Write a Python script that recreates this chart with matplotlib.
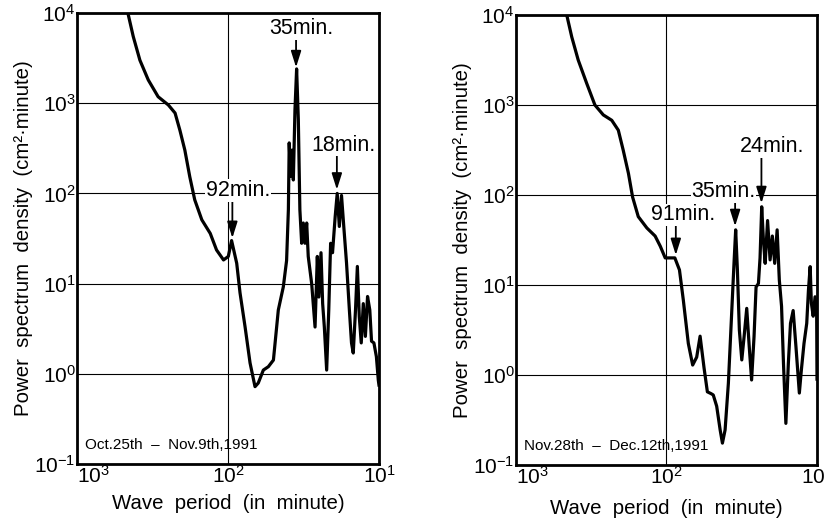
import matplotlib.pyplot as plt
import numpy as np

plt.rcParams['font.family'] = ['Liberation Sans', 'DejaVu Sans']
plt.rcParams['mathtext.fontset'] = 'custom'
plt.rcParams['mathtext.rm'] = 'Liberation Sans'

# Oct.25th - Nov.9th,1991
period_a = [500, 460, 424, 383, 337, 290, 248, 224, 208, 193, 179, 166, 149, 131, 119,
            107, 99.5, 94.6, 87.5, 83.2, 77, 71.4, 66.2, 63, 58.3, 54, 50, 46.4, 43,
            40.9, 39.8, 39.3, 38.5, 37.7, 36.9, 36, 35.1, 34.2, 33.4, 32.5, 31.7, 30.9,
            30.1, 29.4, 27.9, 26.5, 25.6, 25, 24.2, 23.6, 23, 22.2, 21.5, 20.9, 20.3,
            19.5, 18.9, 18.3, 17.7, 17.1, 16.4, 15.7, 15.2, 14.8, 14.3, 13.9, 13.5, 13.1,
            12.7, 12.3, 11.9, 11.5, 11.2, 10.8, 10.4, 10.1, 10.0]
psd_a = [16000, 10000, 5500, 3000, 1810, 1180, 955, 778, 500, 302, 153, 85, 51, 36, 23.6,
         18.3, 20, 30, 16.8, 7.9, 3.3, 1.32, 0.72, 0.79, 1.1, 1.2, 1.42, 5.1, 9.2,
         18, 66, 363, 155, 302, 141, 841, 2400, 660, 66, 28, 47, 28,
         47, 20, 10, 3.3, 20, 7.1, 22, 6.0, 3.3, 1.1, 5.1, 28, 22,
         55, 100, 43, 95, 43, 17, 5.1, 2.2, 1.7, 5.1, 15.5, 4.3, 2.2,
         6.0, 2.6, 7.2, 5.1, 2.3, 2.2, 1.55, 0.85, 0.75]

# Nov.28th - Dec.12th,1991
period_b = [500, 460, 426, 386, 339, 299, 263, 231, 209, 194, 179, 168, 154, 135, 119,
            110, 102, 88, 82, 77.3, 71.6, 67, 63, 59.8, 56.3, 53.5, 50.5, 48.9, 46.4,
            44, 42.5, 40.8, 38.8, 36.9, 35.6, 34.7, 33.8, 32.8, 31.6, 30.5, 29.3, 28.2,
            27.2, 26.2, 25.4, 24.5, 23.9, 23.3, 22.7, 22.1, 21.3, 20.5, 19.8, 19.1, 18.4,
            17.8, 17.2, 16.7, 16.1, 15.5, 15.0, 14.4, 13.8, 13.1, 12.7, 12.2, 11.7, 11.4,
            11.1, 10.9, 10.6, 10.3, 10.05, 10.0]
psd_b = [16000, 10000, 5700, 3160, 1740, 1000, 776, 676, 525, 316, 174, 95, 57.5, 43, 35,
         27, 20, 20, 14.7, 6.8, 2.24, 1.29, 1.58, 2.7, 1.2, 0.65, 0.62, 0.6, 0.45,
         0.245, 0.175, 0.245, 0.81, 4.85, 17.4, 41, 14.7, 3.16, 1.47, 2.67, 5.5, 2.07,
         0.88, 2.67, 9.5, 10.4, 20, 74, 31.6, 17.4, 52, 19, 35, 17.4, 41,
         11.4, 5.8, 1.35, 0.29, 1.35, 3.75, 5.2, 2.07, 0.63, 1.14, 2.24, 3.75, 8.7,
         16, 6.3, 4.5, 7.4, 4.5, 0.9]

# peak labels: text, arrow x, arrow top, arrow tip, text x, text y
peaks_a = [('92min.', 93.5, 91, 32, 86, 108),
           ('35min.', 35.4, 5400, 2500, 32.6, 6700),
           ('18min.', 19.0, 275, 110, 17.3, 342)]
peaks_b = [('91min.', 86.7, 49, 21.5, 77, 60),
           ('35min.', 35.0, 87, 45, 41.9, 109),
           ('24min.', 23.4, 270, 81, 20, 344)]

dates = ['Oct.25th  \u2013  Nov.9th,1991', 'Nov.28th  \u2013  Dec.12th,1991']

fig = plt.figure(figsize=(8.24, 5.21), dpi=100)
ax1 = fig.add_axes([0.0934, 0.1094, 0.3665, 0.8656])
ax2 = fig.add_axes([0.6262, 0.1075, 0.3653, 0.8637])

for ax, px, py, peaks, date, lp in [(ax1, period_a, psd_a, peaks_a, dates[0], 5),
                                    (ax2, period_b, psd_b, peaks_b, dates[1], 8)]:
    ax.plot(px, py, c='black', lw=2.3, solid_joinstyle='round', zorder=3)
    ax.set_xscale('log')
    ax.set_yscale('log')
    ax.set_xlim(1000, 10)
    ax.set_ylim(0.1, 10000)
    ax.set_xticks([1000, 100, 10])
    ax.set_yticks([0.1, 1, 10, 100, 1000, 10000])
    ax.minorticks_off()
    ax.grid(True, color='black', lw=0.8)
    ax.set_axisbelow(True)
    ax.tick_params(length=0, labelsize=15, pad=1)
    for s in ax.spines.values():
        s.set_linewidth(2)
    xl = ax.get_xticklabels()
    xl[0].set_horizontalalignment('left')
    for lab, x, y0, y1, tx, ty in peaks:
        ax.annotate('', xy=(x, y1), xytext=(x, y0),
                    arrowprops=dict(arrowstyle='-|>,head_width=0.22,head_length=0.7',
                                    color='black', lw=1.3,
                                    mutation_scale=14, shrinkA=0, shrinkB=0), zorder=4)
        ax.text(tx, ty, lab, fontsize=15.5, ha='center', va='center', zorder=5,
                bbox=dict(facecolor='white', edgecolor='none', pad=0.5))
    ax.text(0.025, 0.042, date, transform=ax.transAxes, fontsize=11, va='center')
    ax.set_xlabel('Wave  period  (in  minute)', fontsize=14.7, labelpad=lp)
    ax.set_ylabel('Power  spectrum  density  (cm\u00b2\u00b7minute)', fontsize=14.7, labelpad=1)

plt.savefig('out.png', dpi=100)
